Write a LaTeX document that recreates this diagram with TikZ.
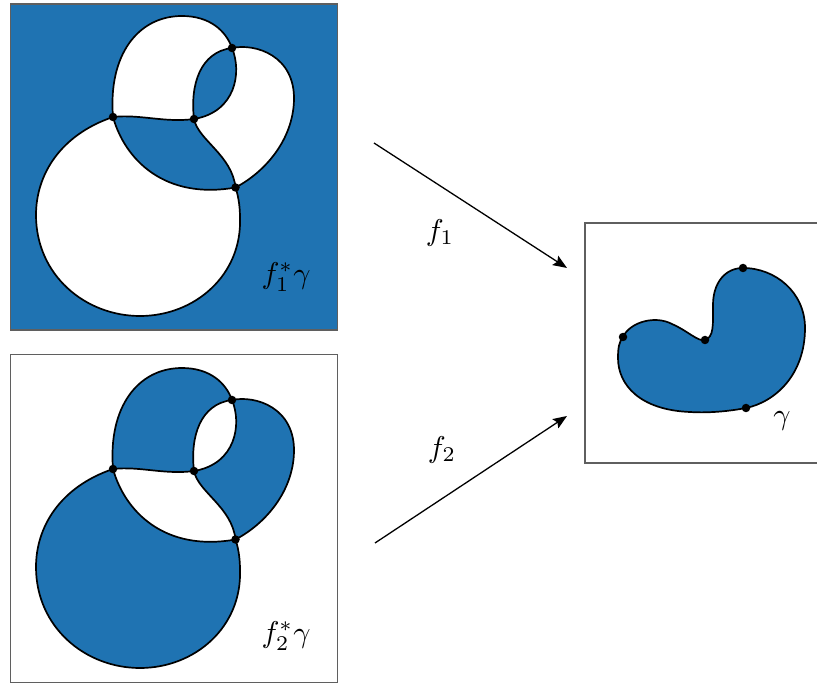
\documentclass[tikz,border=0pt]{standalone}
\usetikzlibrary{arrows.meta}
\definecolor{tabblue}{RGB}{31,115,178}
\definecolor{framegray}{RGB}{95,95,95}
\begin{document}
\begin{tikzpicture}[x=1pt,y=-1pt,
  curve/.style={line width=1.7pt, black},
  frame/.style={line width=1.5pt, draw=framegray},
  dot/.style={circle, fill=black, inner sep=0pt, minimum size=8.5pt},
  lbl/.style={scale=3, inner sep=0pt},
  arr/.style={line width=1.3pt, -{Stealth[length=14pt,width=11pt,inset=2.5pt]}}]
\useasboundingbox (0,0) rectangle (817,684);

% top panel background
\fill[tabblue] (10.5,4) rectangle (337.5,330);

\foreach \i/\dy/\fg/\lx/\ly in {1/0/white/286/277, 2/352/tabblue/286/284} {
 \begin{scope}[shift={(0,\dy)}]
  \coordinate (A\i) at (113,117);
  \coordinate (B\i) at (194,119);
  \coordinate (C\i) at (232,48);
  \coordinate (D\i) at (235.5,187.5);
  % regions
  \fill[\fg] (A\i) .. controls (60,135) and (36,175) .. (36,215)
     .. controls (36,275) and (85,316) .. (140,316)
     .. controls (195,316) and (242,275) .. (240,218)
     .. controls (240,205) and (238,195) .. (D\i)
     .. controls (165,200) and (125,160) .. (A\i) -- cycle;
  \fill[\fg] (A\i) .. controls (108,55) and (138,16) .. (182,16)
     .. controls (210,16) and (226,31) .. (C\i)
     .. controls (200,52) and (190,85) .. (B\i)
     .. controls (165,123) and (140,114) .. (A\i) -- cycle;
  \fill[\fg] (C\i) .. controls (256,43) and (295,56) .. (294,100)
     .. controls (293,140) and (265,172) .. (D\i)
     .. controls (232,155) and (198,140) .. (B\i)
     .. controls (236,112) and (242,72) .. (C\i) -- cycle;
  % curves
  \draw[curve] (A\i) .. controls (108,55) and (138,16) .. (182,16)
     .. controls (210,16) and (226,31) .. (C\i);
  \draw[curve] (C\i) .. controls (256,43) and (295,56) .. (294,100)
     .. controls (293,140) and (265,172) .. (D\i);
  \draw[curve] (C\i) .. controls (200,52) and (190,85) .. (B\i);
  \draw[curve] (C\i) .. controls (242,72) and (236,112) .. (B\i);
  \draw[curve] (A\i) .. controls (140,114) and (165,123) .. (B\i);
  \draw[curve] (A\i) .. controls (125,160) and (165,200) .. (D\i);
  \draw[curve] (B\i) .. controls (198,140) and (232,155) .. (D\i);
  \draw[curve] (A\i) .. controls (60,135) and (36,175) .. (36,215)
     .. controls (36,275) and (85,316) .. (140,316)
     .. controls (195,316) and (242,275) .. (240,218)
     .. controls (240,205) and (238,195) .. (D\i);
  % dots
  \node[dot] (dA\i) at (A\i) {};
  \node[dot] (dB\i) at (B\i) {};
  \node[dot] (dC\i) at (C\i) {};
  \node[dot] (dD\i) at (D\i) {};
  \node[lbl] (lab\i) at (\lx,\ly) {$f_\i^*\gamma$};
 \end{scope}
}

% frames of left panels
\draw[frame] (10.5,4) rectangle (337.5,330);
\draw[frame] (10.5,354.5) rectangle (337.3,682.3);

% right panel
\draw[frame] (585,223) rectangle (840,463);
\coordinate (P1) at (623,337);
\coordinate (P2) at (705,340);
\coordinate (P3) at (743,268);
\coordinate (P4) at (746,408);
\draw[curve, fill=tabblue] (P1) .. controls (630,322) and (655,315) .. (672,324)
   .. controls (688,331) and (698,342) .. (P2)
   .. controls (714,337) and (713,325) .. (713,305)
   .. controls (713,283) and (725,268) .. (P3)
   .. controls (775,268) and (805,292) .. (805,328)
   .. controls (805,375) and (775,402) .. (P4)
   .. controls (725,412) and (705,413) .. (690,412)
   .. controls (640,410) and (618,385) .. (618,358)
   .. controls (618,348) and (619,342) .. (P1) -- cycle;
\node[dot] (q1) at (P1) {};
\node[dot] (q2) at (P2) {};
\node[dot] (q3) at (P3) {};
\node[dot] (q4) at (P4) {};
\node[lbl] (gam) at (782,421) {$\gamma$};

% arrows
\coordinate (s1) at (374,143);
\coordinate (e1) at (567,268);
\coordinate (s2) at (375,543);
\coordinate (e2) at (567,416);
\draw[arr] (s1) -- (e1);
\draw[arr] (s2) -- (e2);
\node[lbl] (f1) at (440,233) {$f_1$};
\node[lbl] (f2) at (442,450) {$f_2$};
\end{tikzpicture}
\end{document}
